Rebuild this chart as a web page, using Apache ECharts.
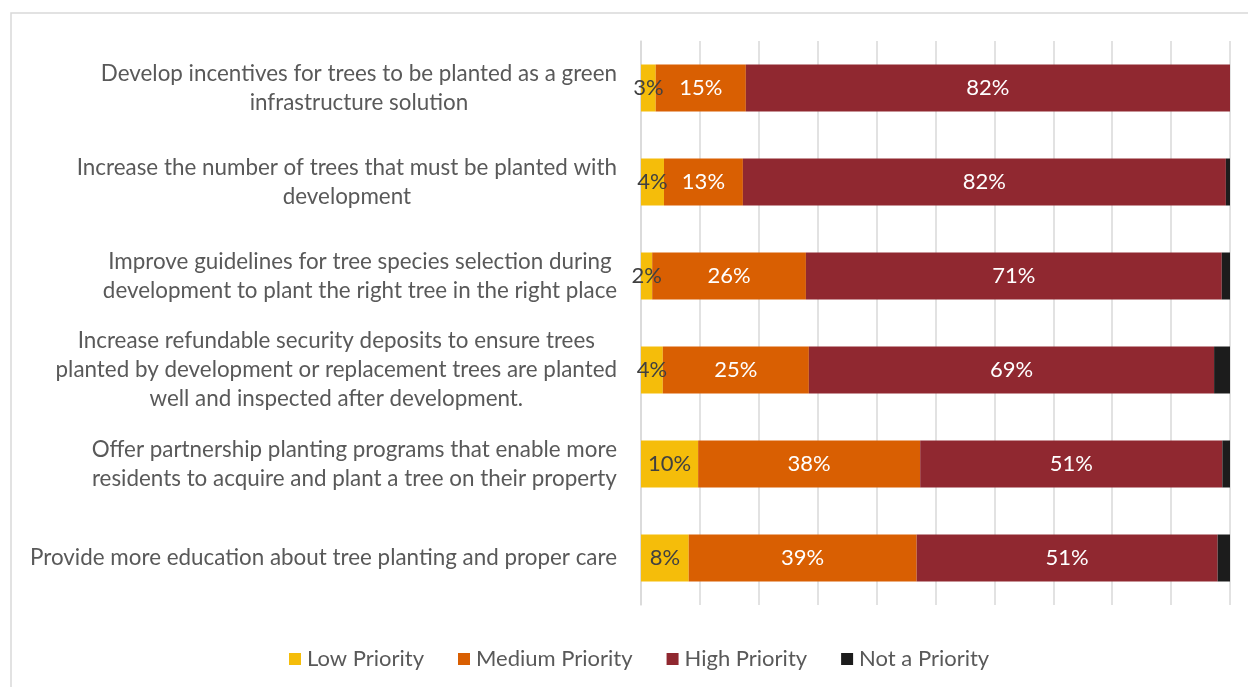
<!DOCTYPE html>
<html>
<head>
<meta charset="utf-8">
<script src="https://cdn.jsdelivr.net/npm/echarts@6/dist/echarts.min.js"></script>
<style>
html,body{margin:0;padding:0;background:#fff;}
#c{width:1248px;height:687px;}
</style>
</head>
<body>
<div id="c"></div>
<script>
const categories = [
  "Develop incentives for trees to be planted as a green\ninfrastructure solution",
  "Increase the number of trees that must be planted with\ndevelopment",
  "Improve guidelines for tree species selection during\ndevelopment to plant the right tree in the right place",
  "Increase refundable security deposits to ensure trees\nplanted by development or replacement trees are planted\nwell and inspected after development.",
  "Offer partnership planting programs that enable more\nresidents to acquire and plant a tree on their property",
  "Provide more education about tree planting and proper care"
];
const seriesNames = ["Low Priority", "Medium Priority", "High Priority", "Not a Priority"];
const lowPriority    = [2.5, 3.9, 1.9, 3.7, 9.7, 8.1];
const mediumPriority = [15.3, 13.4, 26.1, 24.8, 37.7, 38.7];
const highPriority   = [82.2, 82.0, 70.6, 68.8, 51.3, 51.1];
const notPriority    = [0.0, 0.7, 1.4, 2.7, 1.3, 2.1];

const colors = ["#F5BD0A", "#D95F02", "#902830", "#1C1C1C"];
const labelColors = ["#404040", "#ffffff", "#ffffff", null];
const values = [lowPriority, mediumPriority, highPriority, notPriority];
const FONT = "Lato";
const FS = 22.4;

const chart = echarts.init(document.getElementById('c'), null, {renderer: 'canvas'});
chart.setOption({
  backgroundColor: '#ffffff',
  animation: false,
  textStyle: {fontFamily: FONT},
  graphic: [{
    type: 'rect', silent: true,
    shape: {x: 11, y: 13, width: 1400, height: 900},
    style: {fill: 'none', stroke: '#d9d9d9', lineWidth: 1.5}
  }],
  legend: {
    left: 284, top: 643,
    itemWidth: 12, itemHeight: 12, itemGap: 34,
    icon: 'rect',
    textStyle: {fontFamily: FONT, fontSize: 22, color: '#595959', padding: [0, 0, 0, 1]},
    data: seriesNames
  },
  grid: {left: 641, right: 18, top: 41, bottom: 82, containLabel: false},
  xAxis: {
    type: 'value', min: 0, max: 100, interval: 10,
    axisLabel: {show: false},
    axisLine: {show: false}, axisTick: {show: false},
    splitLine: {show: true, lineStyle: {color: '#d9d9d9', width: 1.5}}
  },
  yAxis: {
    type: 'category', inverse: true, data: categories,
    axisLine: {show: true, lineStyle: {color: '#d9d9d9', width: 1.5}},
    axisTick: {show: false},
    axisLabel: {
      margin: 24, align: 'right',
      formatter: function (v) {
        return v.split('\n').map(function (l) { return '{c|' + l + '}'; }).join('\n');
      },
      rich: {c: {align: 'center', fontFamily: FONT, fontSize: FS, color: '#595959', lineHeight: 29}}
    }
  },
  series: seriesNames.map(function (name, i) {
    return {
      name: name, type: 'bar', stack: 'total',
      barCategoryGap: '50%',
      data: values[i],
      itemStyle: {color: colors[i]},
      label: {
        show: i < 3, position: 'inside',
        fontFamily: FONT, fontSize: 22, color: labelColors[i] || '#fff',
        formatter: function (p) { return Math.round(p.value) + '%'; }
      }
    };
  })
});
</script>
</body>
</html>
